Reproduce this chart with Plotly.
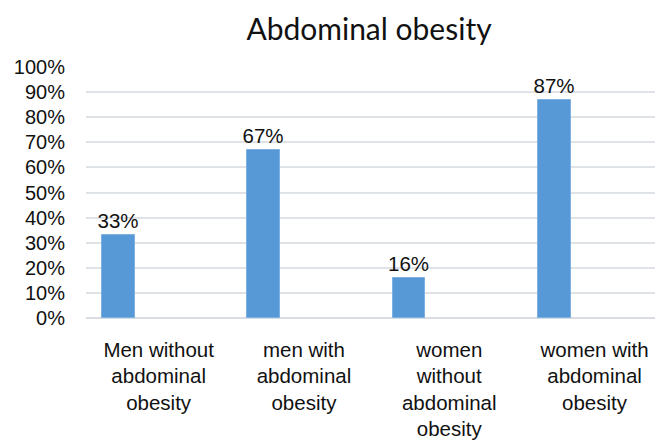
import plotly.graph_objects as go

categories = [
    "Men without abdominal obesity",
    "men with abdominal obesity",
    "women without abdominal obesity",
    "women with abdominal obesity",
]
tick_labels = [
    "Men without<br>abdominal<br>obesity",
    "men with<br>abdominal<br>obesity",
    "women<br>without<br>abdominal<br>obesity",
    "women with<br>abdominal<br>obesity",
]
values = [33, 67, 16, 87]
y_ticks = list(range(0, 101, 10))

fig = go.Figure()
fig.add_trace(go.Bar(
    x=categories,
    y=values,
    width=0.225,
    offset=-0.39,
    marker=dict(color="#5699d6", line=dict(color="#7cb1e2", width=1)),
    text=[f"{v}%" for v in values],
    textposition="outside",
    constraintext="none",
    textfont=dict(family="Liberation Sans, Arial", size=20.5, color="#111111"),
    cliponaxis=False,
    showlegend=False,
))

fig.update_layout(
    width=655,
    height=441,
    autosize=False,
    paper_bgcolor="white",
    plot_bgcolor="white",
    margin=dict(l=86, r=0, t=67, b=123, pad=0),
    title=dict(
        text="Abdominal obesity",
        font=dict(family="Lato", size=30, color="#111111"),
        x=369 / 655,
        xanchor="center",
        xref="container",
        y=1 - 29 / 441,
        yanchor="middle",
        yref="container",
    ),
    font=dict(family="Liberation Sans, Arial", color="#111111"),
    bargap=0,
)

fig.update_xaxes(
    type="category",
    range=[-0.5, 3.416],
    tickmode="array",
    tickvals=categories,
    ticktext=tick_labels,
    tickfont=dict(size=20.5, family="Liberation Sans, Arial", color="#111111"),
    showgrid=False,
    showline=False,
    zeroline=False,
    ticks="",
    ticklabelstandoff=17,
    automargin=False,
)

fig.update_yaxes(
    range=[0, 100],
    tickmode="array",
    tickvals=y_ticks,
    ticktext=[f"{t}%" for t in y_ticks],
    tickfont=dict(size=20, family="Liberation Sans, Arial", color="#111111"),
    showgrid=True,
    gridcolor="#dfe3e8",
    gridwidth=1.5,
    zeroline=True,
    zerolinecolor="#d9dde3",
    zerolinewidth=1.5,
    showline=False,
    ticks="",
    ticklabelstandoff=20,
    automargin=False,
)

fig.write_html("out.html")
